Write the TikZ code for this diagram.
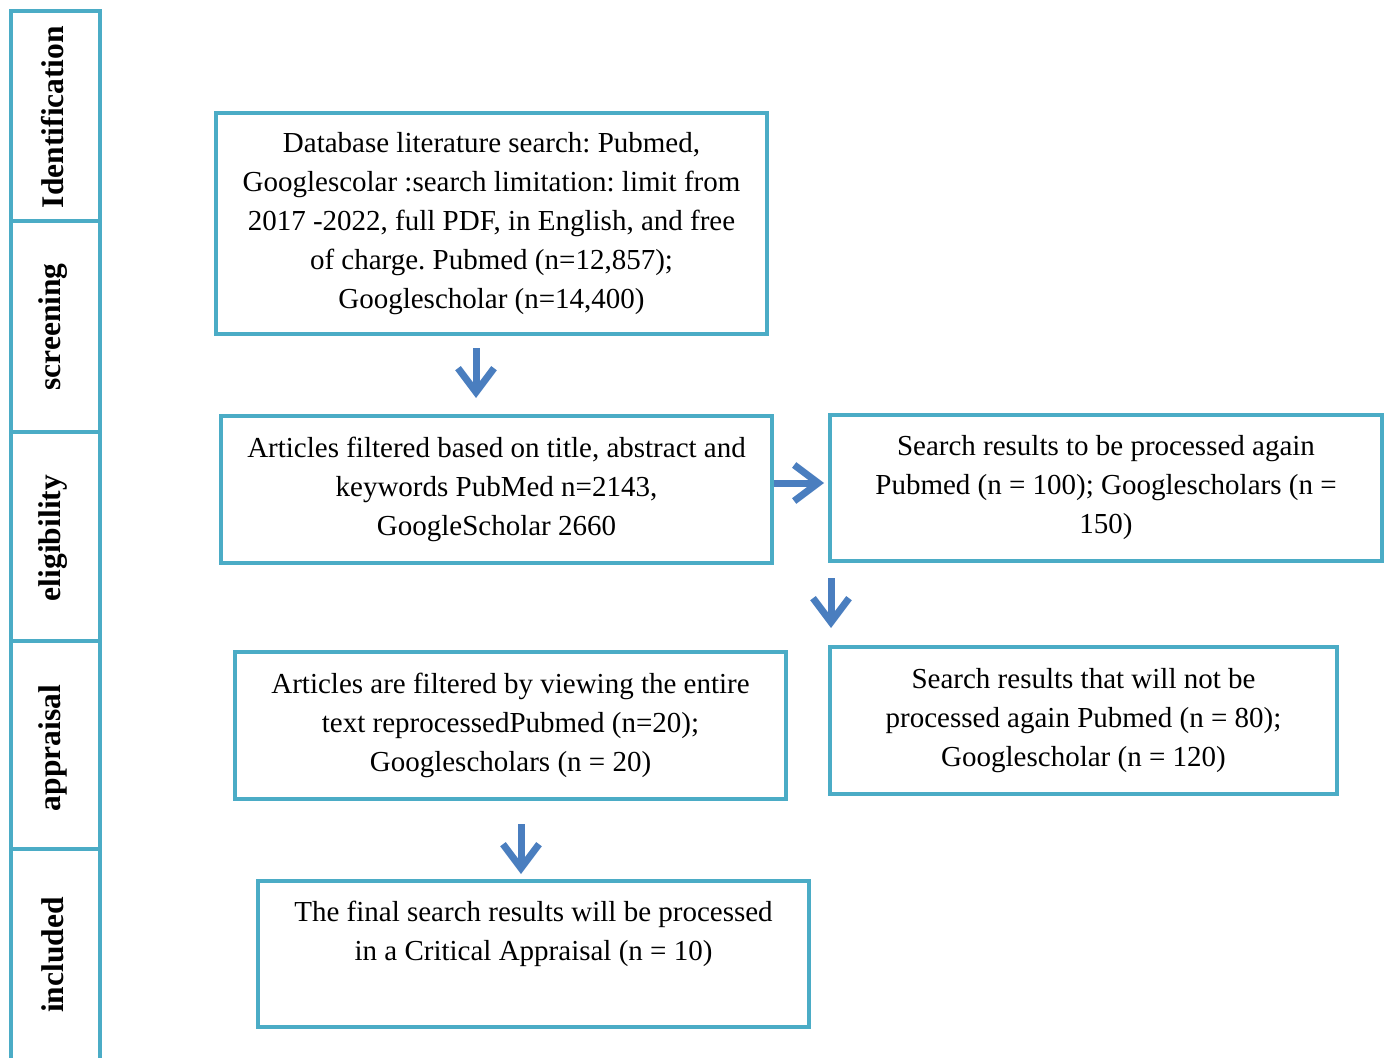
\documentclass[tikz,border=0pt]{standalone}
\usepackage{fontspec}
\setmainfont{Liberation Serif}
\usetikzlibrary{arrows.meta,calc}
\definecolor{boxc}{HTML}{4BACC6}
\definecolor{arrc}{HTML}{4A7EBF}
\frenchspacing
\begin{document}
\begin{tikzpicture}[x=1pt,y=-1pt,
 box/.style={draw=boxc,line width=4pt,align=center,inner sep=0pt,font=\fontsize{29}{39}\selectfont},
 panel/.style={draw=boxc,line width=4pt,inner sep=0pt,minimum width=89pt},
 lab/.style={rotate=90,inner sep=0pt,font=\fontsize{31.5}{36}\selectfont\bfseries},
 arr/.style={draw=arrc,line width=7pt,-{Straight Barb[length=24pt,width=36pt]}}]
\path[use as bounding box] (0,0) rectangle (1386,1057);
% side panels
\node[panel,minimum height=210pt] (s1) at (55.5,116) {};
\node[panel,minimum height=211pt] (s2) at (55.5,326.5) {};
\node[panel,minimum height=209pt] (s3) at (55.5,536.5) {};
\node[panel,minimum height=208pt] (s4) at (55.5,745) {};
\node[panel,draw=none,outer sep=0pt,minimum height=210pt] (s5) at (55.5,954) {};
\draw[boxc,line width=4pt] ($(s5.south west)+(0,10)$) -- (s5.north west) -- (s5.north east) -- ($(s5.south east)+(0,10)$);
\node[lab] (l1) at (53,117) {Identification};
\node[lab] (l2) at (53,327) {screening};
\node[lab] (l3) at (53,538) {eligibility};
\node[lab] (l4) at (53,748) {appraisal};
\node[lab] (l5) at (53,955) {included};
% boxes
\node[box,minimum width=551pt,minimum height=221pt] (b1) at (491.5,223.5)
 {Database literature search: Pubmed,\\Googlescolar :search limitation: limit from\\2017 -2022, full PDF, in English, and free\\of charge. Pubmed (n=12,857);\\Googlescholar (n=14,400)};
\node[box,minimum width=551pt,minimum height=147pt] (b2) at (496.5,489.5)
 {Articles filtered based on title, abstract and\\keywords PubMed n=2143,\\GoogleScholar 2660};
\node[box,minimum width=552pt,minimum height=146pt] (b3) at (1106,488)
 {Search results to be processed again\\Pubmed (n = 100); Googlescholars (n =\\150)};
\node[box,minimum width=507pt,minimum height=147pt] (b4) at (1083.5,720.5)
 {Search results that will not be\\processed again Pubmed (n = 80);\\Googlescholar (n = 120)};
\node[box,minimum width=551pt,minimum height=147pt] (b5) at (510.5,725.5)
 {Articles are filtered by viewing the entire\\text reprocessedPubmed (n=20);\\Googlescholars (n = 20)};
\node[box,minimum width=551pt,minimum height=146pt] (b6) at (533.5,954)
 {The final search results will be processed\\in a Critical Appraisal (n = 10)\\[8pt]\mbox{}};
% arrows
\draw[arr,shorten <=12pt,shorten >=16pt] ([xshift=-15.5pt]b1.south) -- ([xshift=-15.5pt]b1.south |- b2.north);
\draw[arr,shorten <=0pt,shorten >=4pt] (b2.east |- 0,483) -- (b3.west |- 0,483);
\draw[arr,shorten <=15pt,shorten >=17pt] ([xshift=3pt]b3.south west) -- ([xshift=3pt]b3.south west |- b4.north);
\draw[arr,shorten <=23pt,shorten >=5pt] ([xshift=10.5pt]b5.south) -- ([xshift=10.5pt]b5.south |- b6.north);
\end{tikzpicture}
\end{document}
